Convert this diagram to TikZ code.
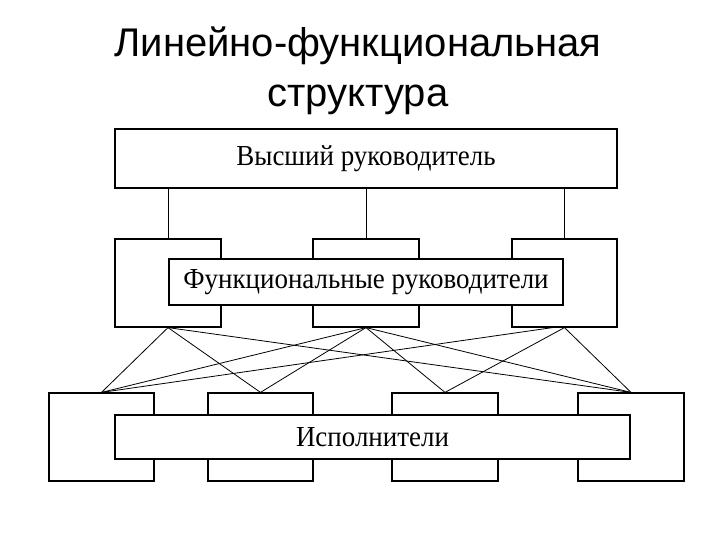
\documentclass[tikz,border=0pt]{standalone}
\usepackage{fontspec}
\setmainfont{Liberation Serif}
\newfontfamily\titlefont{Liberation Sans}
\usepackage{tikz}
\newcommand{\boxtext}[1]{\scalebox{0.93}[1]{#1}}

\begin{document}
\begin{tikzpicture}[x=1pt,y=-1pt,
  box/.style={draw,line width=1.2pt,fill=white,inner sep=0pt,font=\fontsize{29}{31}\selectfont},
  link/.style={line width=0.8pt}]
\useasboundingbox (0,0) rectangle (720,540);

\node[font=\titlefont\fontsize{40}{50}\selectfont,align=center] (title) at (358,71) {Линейно-функциональная\\структура};

\node[box,minimum width=502,minimum height=59] (top) at (366,158.5) {\boxtext{Высший руководитель}};

\node[box,minimum width=106,minimum height=88] (f1) at (168,283) {};
\node[box,minimum width=106,minimum height=88] (f2) at (366,283) {};
\node[box,minimum width=105,minimum height=88] (f3) at (564.5,283) {};
\node[box,minimum width=394,minimum height=46] (func) at (366,282) {\boxtext{Функциональные руководители}};

\node[box,minimum width=105,minimum height=88] (e1) at (101.5,437) {};
\node[box,minimum width=105,minimum height=88] (e2) at (260.5,437) {};
\node[box,minimum width=106,minimum height=88] (e3) at (445,437) {};
\node[box,minimum width=106,minimum height=88] (e4) at (631,437) {};
\node[box,minimum width=515,minimum height=44] (exec) at (372.5,437) {\boxtext{Исполнители}};

\draw[link] (f1.north) -- (f1.north |- top.south);
\draw[link] (f2.north) -- (f2.north |- top.south);
\draw[link] (f3.north) -- (f3.north |- top.south);

\draw[link] (f1.south) -- (e1.north);
\draw[link] (f1.south) -- (e2.north);
\draw[link] (f1.south) -- (e4.north);
\draw[link] (f2.south) -- (e1.north);
\draw[link] (f2.south) -- (e2.north);
\draw[link] (f2.south) -- (e3.north);
\draw[link] (f2.south) -- (e4.north);
\draw[link] ([xshift=-12pt]f3.south) -- (e1.north);
\draw[link] (f3.south) -- (e3.north);
\draw[link] (f3.south) -- (e4.north);
\end{tikzpicture}
\end{document}
